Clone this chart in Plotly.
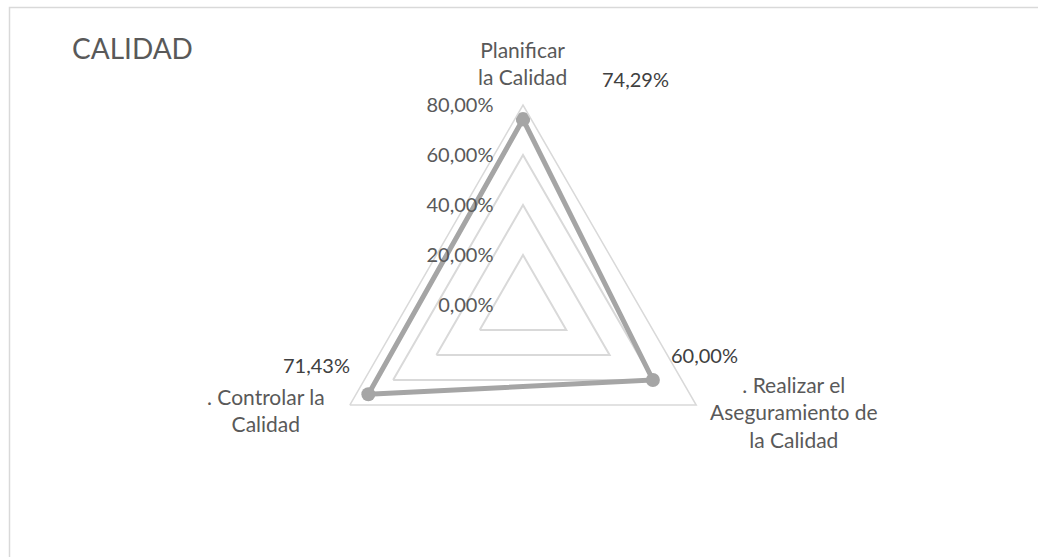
import plotly.graph_objects as go

# Quality-management process scores (radar chart)
categories = [
    "Planificar<br>la Calidad",
    ". Realizar el<br>Aseguramiento de<br>la Calidad",
    ". Controlar la<br>Calidad",
]
scores = [0.7429, 0.60, 0.7143]
radial_ticks = [0.0, 0.2, 0.4, 0.6, 0.8]
title_text = "CALIDAD"

W, H = 1038, 557
TEXT = "#595959"
GRID = "#d9d9d9"
SERIES = "#a5a5a5"
FONT = "Lato, 'Open Sans', sans-serif"

# polar area: centre (523, 305) px, radius 200 px
cx, cy, rad = 523, 305, 200


def px(x):
    return x / W


def py(y):
    return 1 - y / H


def fmt_pct(v):
    return f"{v * 100:.2f}".replace(".", ",") + "%"


# closed polygon through the three axes
fig = go.Figure()
fig.add_trace(go.Scatterpolar(
    r=scores + scores[:1],
    theta=categories + categories[:1],
    mode="lines+markers",
    line=dict(color=SERIES, width=5),
    marker=dict(color=SERIES, size=14),
    hoverinfo="skip",
    showlegend=False,
))

fig.update_layout(
    width=W, height=H,
    margin=dict(l=0, r=0, t=0, b=0),
    paper_bgcolor="white",
    plot_bgcolor="white",
    separators=",.",
    font=dict(family=FONT, color=TEXT, size=20),
    polar=dict(
        domain=dict(x=[px(cx - rad), px(cx + rad)], y=[py(cy + rad), py(cy - rad)]),
        bgcolor="white",
        gridshape="linear",
        radialaxis=dict(
            range=[0, 0.8],
            tickvals=radial_ticks,
            ticktext=[fmt_pct(v) for v in radial_ticks],
            angle=90,
            tickangle=90,
            side="counterclockwise",
            showline=False,
            ticks="outside",
            ticklen=22,
            tickcolor="rgba(0,0,0,0)",
            tickfont=dict(family=FONT, color=TEXT, size=20),
            gridcolor=GRID,
            gridwidth=1.5,
        ),
        angularaxis=dict(
            type="category",
            categoryorder="array",
            categoryarray=categories,
            rotation=90,
            direction="clockwise",
            showticklabels=False,
            ticks="",
            showgrid=False,
            showline=True,
            linecolor=GRID,
            linewidth=1.5,
        ),
    ),
)

annotations = []
# title
annotations.append(dict(
    x=px(70), y=py(48), xref="paper", yref="paper",
    text=title_text, showarrow=False, xanchor="left", yanchor="middle",
    font=dict(family=FONT, size=28, color=TEXT),
))
# category labels
cat_pos = [(522, 63), (794, 412), (266, 410)]
for label, (x, y) in zip(categories, cat_pos):
    annotations.append(dict(
        x=px(x), y=py(y), xref="paper", yref="paper",
        text=label, showarrow=False, align="center",
        xanchor="center", yanchor="middle",
        font=dict(family=FONT, size=21, color=TEXT),
    ))
# data labels
val_pos = [(635, 79), (704, 355), (316, 365)]
for v, (x, y) in zip(scores, val_pos):
    annotations.append(dict(
        x=px(x), y=py(y), xref="paper", yref="paper",
        text=fmt_pct(v), showarrow=False,
        xanchor="center", yanchor="middle",
        font=dict(family=FONT, size=20, color="#404040"),
    ))
fig.update_layout(annotations=annotations)

# chart-area border
fig.add_shape(
    type="rect", xref="paper", yref="paper",
    x0=px(9.5), y0=py(560), x1=px(1045), y1=py(7.5),
    line=dict(color=GRID, width=1.5), fillcolor="rgba(0,0,0,0)",
)

fig.write_html("out.html")
